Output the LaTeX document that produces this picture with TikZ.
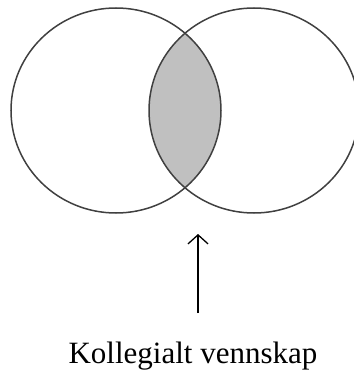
\documentclass[tikz,border=0pt]{standalone}
\usepackage{fontspec}
\setmainfont{Liberation Serif}
\usetikzlibrary{shapes.geometric,arrows.meta}
\begin{document}
\begin{tikzpicture}[x=1pt,y=-1pt,
  ring/.style={draw=black!75,line width=1.5pt},
  pointer/.style={draw=black,line width=1.3pt,-{Straight Barb[length=9pt,width=20pt,line width=1.3pt]}}]
\useasboundingbox (0,0) rectangle (353,382);
\definecolor{lensgrey}{RGB}{192,192,192}
\begin{scope}
  \clip (116,110.5) ellipse [x radius=105, y radius=102.5];
  \fill[lensgrey] (254,110.5) ellipse [x radius=105, y radius=102.5];
\end{scope}
\node[ring,ellipse,minimum width=210pt,minimum height=205pt,inner sep=0pt] (left) at (116,110.5) {};
\node[ring,ellipse,minimum width=210pt,minimum height=205pt,inner sep=0pt] (right) at (254,110.5) {};
\coordinate (tail) at (198,313);
\coordinate (tip) at (198,234);
\draw[pointer] (tail) -- (tip);
\node[font=\fontsize{31}{36}\selectfont,anchor=base,inner sep=0pt] (label) at (193,363) {Kollegialt vennskap};
\end{tikzpicture}
\end{document}
